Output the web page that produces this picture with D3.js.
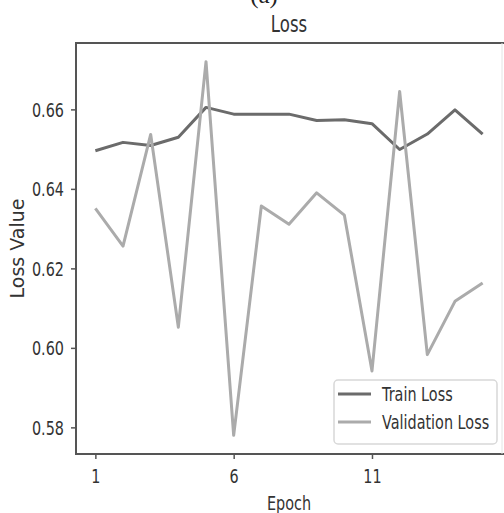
<!DOCTYPE html>
<html>
<head>
<meta charset="utf-8">
<script src="https://cdn.jsdelivr.net/npm/d3@7"></script>
<style>
  html, body { margin: 0; padding: 0; background: #fff; }
  svg { display: block; }
  text { font-family: "DejaVu Sans", sans-serif; fill: #333; }
</style>
</head>
<body>
<svg id="chart" width="504" height="513"></svg>
<script>
// Epoch-by-epoch loss values
const epochs = [1, 2, 3, 4, 5, 6, 7, 8, 9, 10, 11, 12, 13, 14, 15];
const trainLoss = [0.6496, 0.6517, 0.6509, 0.6530, 0.6605, 0.6588, 0.6588, 0.6588,
                   0.6572, 0.6574, 0.6564, 0.6499, 0.6538, 0.6599, 0.6538];
const validationLoss = [0.6351, 0.6256, 0.6537, 0.6052, 0.6720, 0.5780, 0.6357, 0.6311,
                        0.6390, 0.6334, 0.5942, 0.6645, 0.5983, 0.6117, 0.6163];
const xTicks = [1, 6, 11];
const yTicks = [0.58, 0.60, 0.62, 0.64, 0.66];
const seriesNames = ["Train Loss", "Validation Loss"];
const seriesColors = ["#6b6b6b", "#ababab"];

const svg = d3.select("#chart");
const axLeft = 76, axRight = 502, axTop = 43, axBottom = 454;
const squeeze = 0.72; // narrow lettering

// Axis limits padded by 5% of the data span
const allVals = trainLoss.concat(validationLoss);
const [vMin, vMax] = d3.extent(allVals);
const pad = (vMax - vMin) * 0.05;
const xPad = (d3.max(epochs) - d3.min(epochs)) * 0.05;

const x = d3.scaleLinear()
  .domain([d3.min(epochs) - xPad, d3.max(epochs) + xPad])
  .range([axLeft, axRight]);
const y = d3.scaleLinear()
  .domain([vMin - pad, vMax + pad])
  .range([axBottom, axTop]);

// Sub-figure tag, running off the top edge
svg.append("text")
  .attr("transform", "translate(264,3)")
  .attr("text-anchor", "middle")
  .style("font-family", "'Liberation Serif', serif")
  .style("font-size", "25px")
  .style("fill", "#222")
  .text("(a)");

// Title
svg.append("text")
  .attr("transform", `translate(${(axLeft + axRight) / 2},32) scale(${squeeze},1)`)
  .attr("text-anchor", "middle")
  .style("font-size", "23px")
  .text("Loss");

// Lines
const line = d3.line().x((d, i) => x(epochs[i])).y(d => y(d));
const plot = svg.append("g");
[trainLoss, validationLoss].forEach((series, k) => {
  plot.append("path")
    .datum(series)
    .attr("fill", "none")
    .attr("stroke", seriesColors[k])
    .attr("stroke-width", 3)
    .attr("stroke-linejoin", "round")
    .attr("d", line);
});

// Axes
const gx = svg.append("g")
  .attr("transform", `translate(0,${axBottom})`)
  .call(d3.axisBottom(x).tickValues(xTicks).tickSize(5).tickSizeOuter(0));
const gy = svg.append("g")
  .attr("transform", `translate(${axLeft},0)`)
  .call(d3.axisLeft(y).tickValues(yTicks).tickFormat(d3.format(".2f")).tickSize(5).tickSizeOuter(0));

[gx, gy].forEach(g => {
  g.select(".domain").remove();
  g.selectAll(".tick line").attr("stroke", "#555").attr("stroke-width", 1.5);
  g.selectAll(".tick text").style("font-size", "20px").style("fill", "#333");
});
gx.selectAll(".tick text")
  .attr("y", null).attr("dy", null)
  .attr("transform", `translate(0,29) scale(${squeeze},1)`);
gy.selectAll(".tick text")
  .attr("x", null).attr("dy", "0.35em")
  .attr("transform", `translate(-12,0) scale(${squeeze},1)`);

// Spines
svg.append("line").attr("x1", axLeft).attr("x2", axLeft).attr("y1", axTop).attr("y2", axBottom)
  .attr("stroke", "#555").attr("stroke-width", 2);
svg.append("line").attr("x1", axLeft - 1).attr("x2", 504).attr("y1", axBottom).attr("y2", axBottom)
  .attr("stroke", "#555").attr("stroke-width", 2);
svg.append("line").attr("x1", axLeft - 1).attr("x2", 504).attr("y1", axTop).attr("y2", axTop)
  .attr("stroke", "#555").attr("stroke-width", 2);
svg.append("line").attr("x1", axRight).attr("x2", axRight).attr("y1", axTop).attr("y2", axBottom)
  .attr("stroke", "#e4e4e4").attr("stroke-width", 1);

// Axis labels
svg.append("text")
  .attr("transform", `translate(${(axLeft + axRight) / 2},510) scale(${squeeze},1)`)
  .attr("text-anchor", "middle")
  .style("font-size", "20px")
  .text("Epoch");
svg.append("text")
  .attr("transform", `translate(24,${(axTop + axBottom) / 2}) rotate(-90)`)
  .attr("text-anchor", "middle")
  .style("font-size", "19px")
  .text("Loss Value");

// Legend, lower right
const legend = svg.append("g");
legend.append("rect")
  .attr("x", 334).attr("y", 380).attr("width", 163).attr("height", 64)
  .attr("rx", 4)
  .attr("fill", "rgba(255,255,255,0.85)")
  .attr("stroke", "#d8d8d8").attr("stroke-width", 1.5);
seriesNames.forEach((name, k) => {
  const cy = 394 + k * 28;
  legend.append("line")
    .attr("x1", 338).attr("x2", 371).attr("y1", cy).attr("y2", cy)
    .attr("stroke", seriesColors[k]).attr("stroke-width", 3);
  legend.append("text")
    .attr("transform", `translate(382,${cy + 7}) scale(${squeeze},1)`)
    .style("font-size", "20px")
    .text(name);
});
</script>
</body>
</html>
